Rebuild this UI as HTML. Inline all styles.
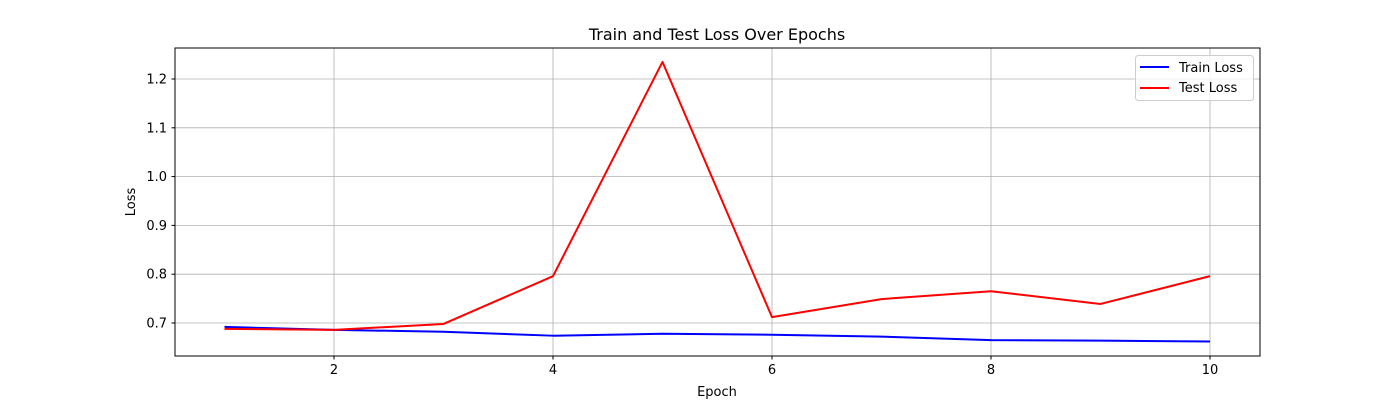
<!DOCTYPE html>
<html><head><meta charset="utf-8"><style>
html,body{margin:0;padding:0;background:#fff;}
svg text{font-family:"DejaVu Sans","Liberation Sans",sans-serif;fill:#000;}
</style></head><body>
<svg id="chart" width="1400" height="400" xmlns="http://www.w3.org/2000/svg">
<rect width="1400" height="400" fill="#fff"/>
<g id="grid"></g>
<g id="series"></g>
<rect x="175" y="48" width="1085" height="308" fill="none" stroke="#000" stroke-width="1"/>
<g id="ticks"></g>
<text x="717" y="40" font-size="16" text-anchor="middle">Train and Test Loss Over Epochs</text>
<text x="717" y="396" font-size="13" text-anchor="middle">Epoch</text>
<text x="135" y="202" font-size="13" text-anchor="middle" transform="rotate(-90 135 202)">Loss</text>
<g>
<rect x="1135.5" y="55.5" width="118" height="45" rx="3" fill="#fff" fill-opacity="0.8" stroke="#ccc"/>
<line x1="1140" y1="67" x2="1169" y2="67" stroke="#0000ff" stroke-width="2"/>
<text x="1179" y="72" font-size="13">Train Loss</text>
<line x1="1140" y1="88" x2="1169" y2="88" stroke="#ff0000" stroke-width="2"/>
<text x="1179" y="92" font-size="13">Test Loss</text>
</g>
</svg>
<script>
const epochs=[1,2,3,4,5,6,7,8,9,10];
const trainLoss=[0.692,0.686,0.682,0.674,0.678,0.676,0.672,0.665,0.664,0.662];
const testLoss=[0.688,0.686,0.698,0.796,1.235,0.712,0.749,0.765,0.739,0.796];
const xTicks=[2,4,6,8,10];
const yTicks=[0.7,0.8,0.9,1.0,1.1,1.2];
const NS="http://www.w3.org/2000/svg";
function xs(v){return 224.5+(v-1)*109.5;}
function ys(v){return 323-(v-0.7)*488;}
const grid=document.getElementById('grid'),ticks=document.getElementById('ticks'),ser=document.getElementById('series');
function mk(tag,attrs,parent){const e=document.createElementNS(NS,tag);for(const k in attrs)e.setAttribute(k,attrs[k]);parent.appendChild(e);return e;}
xTicks.forEach(t=>{const x=xs(t);
 const g=mk('line',{x1:x,x2:x,y1:48,y2:356,stroke:'#b0b0b0','stroke-width':0.8},grid);
 
 
 mk('line',{x1:x,x2:x,y1:356,y2:359.5,stroke:'#000'},ticks);
 const tx=mk('text',{x:x,y:374,'font-size':13,'text-anchor':'middle'},ticks);tx.textContent=t;
 
 
});
yTicks.forEach(t=>{const y=ys(t);
 const g=mk('line',{x1:175,x2:1260,y1:y,y2:y,stroke:'#b0b0b0','stroke-width':0.8},grid);
 
 
 mk('line',{x1:171.5,x2:175,y1:y,y2:y,stroke:'#000'},ticks);
 const tx=mk('text',{x:167,y:y+4.5,'font-size':13,'text-anchor':'end'},ticks);tx.textContent=t.toFixed(1);
 
 
});
function line(vals,color,name){
 const p=mk('polyline',{points:vals.map((v,i)=>xs(epochs[i])+','+ys(v)).join(' '),fill:'none',stroke:color,'stroke-width':2,'stroke-linejoin':'round'},ser);
 
 
}
line(trainLoss,'#0000ff','train-loss-line');
line(testLoss,'#ff0000','test-loss-line');
</script>
</body></html>
